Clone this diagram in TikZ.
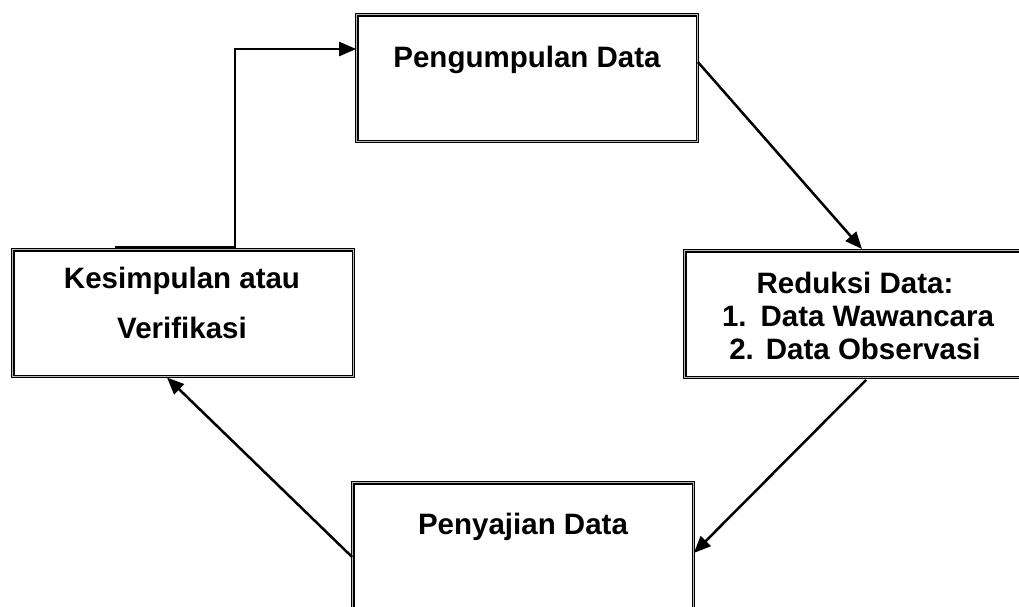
\documentclass[tikz,border=0pt]{standalone}
\usepackage{fontspec}
\setmainfont{Liberation Sans}
\usetikzlibrary{arrows.meta}
\begin{document}
\begin{tikzpicture}[x=1pt,y=-1pt,
  box/.style={draw=black, line width=1.2pt, double=gray!55, double distance=1.1pt,
    fill=white, minimum width=340.5pt, minimum height=126.5pt, inner sep=0pt},
  lbl/.style={anchor=base, inner sep=0pt, font=\fontsize{29.5}{35}\selectfont\bfseries},
  arr/.style={line width=2.5pt, -{Triangle[length=17pt,width=14pt]}},
  ln/.style={line width=2.5pt}]
\useasboundingbox (0,0) rectangle (1019,606);
\clip (0,0) rectangle (1019,606);
\fill[white] (0,0) rectangle (1019,606);
% boxes
\node[box] (b1) at (527,78) {};
\node[box] (b2) at (183,313) {};
\node[box] (b3) at (855,314) {};
\node[box] (b4) at (523,546) {};
% texts
\node[lbl] (t1) at (527,67) {Pengumpulan Data};
\node[lbl] (t2a) at (182,288) {Kesimpulan atau};
\node[lbl] (t2b) at (182,338) {Verifikasi};
\node[lbl] (t3a) at (855,293) {Reduksi Data:};
\node[lbl] (t3b) at (858,326) {1.\hspace{14pt}Data Wawancara};
\node[lbl] (t3c) at (855,359) {2.\hspace{12pt}Data Observasi};
\node[lbl] (t4) at (523,534) {Penyajian Data};
% connectors
\coordinate (s1) at (b1.east |- 0,62);
\coordinate (e1) at (862,249);
\draw[arr] (s1) -- (e1);
\coordinate (s2) at (866,380);
\coordinate (e2) at (b4.east |- 0,553);
\draw[arr] (s2) -- (e2);
\coordinate (s3) at (b4.west |- 0,557);
\coordinate (e3) at (167,377.5);
\draw[arr] (s3) -- (e3);
\coordinate (s4) at (115,247.5);
\draw[ln] (s4) -- (235,247.5);
\draw[arr] (235,248.7) |- (b1.west |- 0,49);
\end{tikzpicture}
\end{document}
